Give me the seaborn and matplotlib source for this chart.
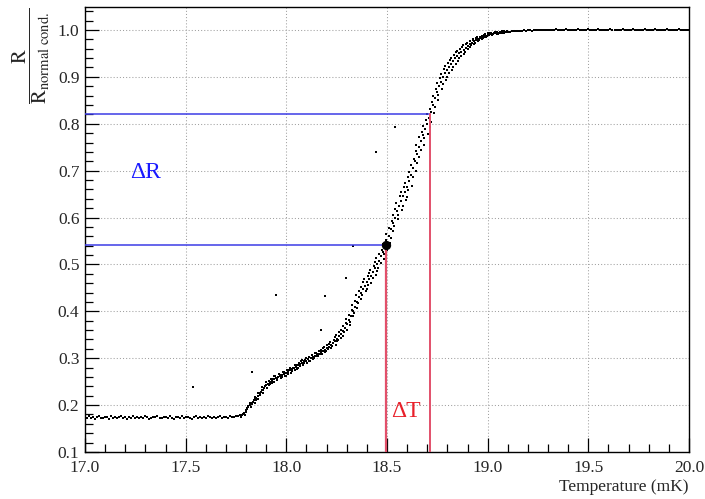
import numpy as np
import pandas as pd
import matplotlib
matplotlib.use("Agg")
import matplotlib.pyplot as plt
from matplotlib.ticker import MultipleLocator
import seaborn as sns

# ---------------- data ----------------
t_low = [17.00, 17.01, 17.02, 17.03, 17.04, 17.05, 17.06, 17.07, 17.08, 17.09,
         17.10, 17.11, 17.12, 17.13, 17.14, 17.15, 17.16, 17.17, 17.18, 17.19,
         17.20, 17.21, 17.22, 17.23, 17.24, 17.25, 17.26, 17.27, 17.28, 17.29,
         17.30, 17.31, 17.32, 17.33, 17.34, 17.35, 17.36, 17.37, 17.38, 17.39,
         17.40, 17.41, 17.42, 17.43, 17.44, 17.45, 17.46, 17.47, 17.48, 17.49,
         17.50, 17.51, 17.52, 17.53, 17.54, 17.55, 17.56, 17.57, 17.58, 17.59,
         17.60, 17.61, 17.62, 17.63, 17.64, 17.65, 17.66, 17.67, 17.68, 17.69,
         17.70, 17.71, 17.72, 17.73, 17.74, 17.75, 17.76, 17.77]
r_low = [0.174, 0.172, 0.176, 0.173, 0.175, 0.171, 0.174, 0.177, 0.173, 0.172,
         0.175, 0.174, 0.171, 0.176, 0.173, 0.174, 0.172, 0.175, 0.177, 0.173,
         0.174, 0.171, 0.175, 0.173, 0.176, 0.172, 0.174, 0.173, 0.175, 0.172,
         0.176, 0.174, 0.171, 0.173, 0.175, 0.174, 0.177, 0.172, 0.173, 0.175,
         0.174, 0.172, 0.176, 0.173, 0.171, 0.175, 0.174, 0.173, 0.176, 0.172,
         0.174, 0.175, 0.173, 0.171, 0.174, 0.176, 0.173, 0.175, 0.172, 0.174,
         0.173, 0.176, 0.174, 0.172, 0.175, 0.173, 0.174, 0.177, 0.172, 0.175,
         0.174, 0.173, 0.176, 0.174, 0.175, 0.177, 0.176, 0.178]

t_trans_c = [17.78, 17.79,
             17.80, 17.81, 17.82, 17.83, 17.84, 17.85, 17.86, 17.87, 17.88, 17.89,
             17.90, 17.91, 17.92, 17.93, 17.94, 17.95, 17.96, 17.97, 17.98, 17.99,
             18.00, 18.01, 18.02, 18.03, 18.04, 18.05, 18.06, 18.07, 18.08, 18.09,
             18.10, 18.11, 18.12, 18.13, 18.14, 18.15, 18.16, 18.17, 18.18, 18.19,
             18.20, 18.21, 18.22, 18.23, 18.24, 18.25, 18.26, 18.27, 18.28, 18.29,
             18.30, 18.31, 18.32, 18.33, 18.34, 18.35, 18.36, 18.37, 18.38, 18.39,
             18.40, 18.41, 18.42, 18.43, 18.44, 18.45, 18.46, 18.47, 18.48, 18.49,
             18.50, 18.51, 18.52, 18.53, 18.54, 18.55, 18.56, 18.57, 18.58, 18.59,
             18.60, 18.61, 18.62, 18.63, 18.64, 18.65, 18.66, 18.67, 18.68, 18.69,
             18.70, 18.71, 18.72, 18.73, 18.74, 18.75, 18.76, 18.77, 18.78, 18.79,
             18.80, 18.81, 18.82, 18.83, 18.84, 18.85, 18.86, 18.87, 18.88, 18.89,
             18.90, 18.91, 18.92, 18.93, 18.94, 18.95, 18.96, 18.97, 18.98, 18.99,
             19.00, 19.01, 19.02, 19.03, 19.04, 19.05, 19.06, 19.07, 19.08, 19.09,
             19.10]
r_trans_c = [0.178, 0.182,
             0.190, 0.195, 0.200, 0.205, 0.210, 0.215, 0.220, 0.226, 0.232, 0.237,
             0.242, 0.246, 0.249, 0.252, 0.255, 0.258, 0.260, 0.262, 0.264, 0.266,
             0.268, 0.271, 0.274, 0.276, 0.279, 0.282, 0.285, 0.288, 0.290, 0.293,
             0.295, 0.298, 0.300, 0.303, 0.305, 0.308, 0.310, 0.313, 0.315, 0.318,
             0.321, 0.324, 0.328, 0.332, 0.337, 0.342, 0.347, 0.352, 0.358, 0.365,
             0.372, 0.381, 0.390, 0.400, 0.410, 0.420, 0.430, 0.439, 0.448, 0.455,
             0.462, 0.468, 0.475, 0.483, 0.492, 0.500, 0.508, 0.517, 0.527, 0.537,
             0.548, 0.561, 0.575, 0.588, 0.600, 0.613, 0.625, 0.635, 0.645, 0.655,
             0.665, 0.677, 0.690, 0.705, 0.720, 0.735, 0.750, 0.763, 0.775, 0.788,
             0.800, 0.812, 0.825, 0.840, 0.855, 0.868, 0.880, 0.890, 0.900, 0.908,
             0.915, 0.922, 0.928, 0.934, 0.940, 0.945, 0.950, 0.954, 0.958, 0.962,
             0.966, 0.970, 0.973, 0.976, 0.978, 0.980, 0.982, 0.984, 0.986, 0.988,
             0.990, 0.991, 0.992, 0.993, 0.993, 0.994, 0.994, 0.995, 0.995, 0.996,
             0.996]

t_trans_a = [17.783, 17.788, 17.804, 17.811, 17.817, 17.835, 17.842, 17.846, 17.861, 17.873,
             17.879, 17.894, 17.897, 17.912, 17.925, 17.928, 17.941, 17.946, 17.963, 17.970,
             17.983, 17.988, 18.004, 18.011, 18.017, 18.035, 18.042, 18.046, 18.061, 18.073,
             18.079, 18.094, 18.097, 18.112, 18.125, 18.128, 18.141, 18.146, 18.163, 18.170,
             18.183, 18.188, 18.204, 18.211, 18.217, 18.235, 18.242, 18.246, 18.261, 18.273,
             18.279, 18.294, 18.297, 18.312, 18.325, 18.328, 18.341, 18.346, 18.363, 18.370,
             18.383, 18.388, 18.404, 18.411, 18.417, 18.435, 18.442, 18.446, 18.461, 18.473,
             18.479, 18.494, 18.497, 18.512, 18.525, 18.528, 18.541, 18.546, 18.563, 18.570,
             18.583, 18.588, 18.604, 18.611, 18.617, 18.635, 18.642, 18.646, 18.661, 18.673,
             18.679, 18.694, 18.697, 18.712, 18.725, 18.728, 18.741, 18.746, 18.763, 18.770,
             18.783, 18.788, 18.804, 18.811, 18.817, 18.835, 18.842, 18.846, 18.861, 18.873,
             18.879, 18.894, 18.897, 18.912, 18.925, 18.928, 18.941, 18.946, 18.963, 18.970,
             18.983, 18.988, 19.004, 19.011, 19.017, 19.035, 19.042, 19.046, 19.061, 19.073,
             19.079, 19.094, 19.097]
r_trans_a = [0.181, 0.184,
             0.193, 0.199, 0.204, 0.207, 0.215, 0.218, 0.226, 0.229, 0.238, 0.240,
             0.249, 0.251, 0.255, 0.256, 0.261, 0.262, 0.266, 0.265, 0.270, 0.270,
             0.274, 0.275, 0.280, 0.280, 0.285, 0.286, 0.290, 0.293, 0.296, 0.297,
             0.301, 0.302, 0.306, 0.307, 0.311, 0.312, 0.316, 0.318, 0.321, 0.323,
             0.328, 0.330, 0.335, 0.339, 0.345, 0.349, 0.356, 0.361, 0.368, 0.375,
             0.383, 0.392, 0.402, 0.413, 0.423, 0.434, 0.443, 0.452, 0.462, 0.468,
             0.476, 0.481, 0.489, 0.497, 0.506, 0.514, 0.523, 0.531, 0.543, 0.552,
             0.565, 0.577, 0.593, 0.605, 0.619, 0.632, 0.645, 0.654, 0.666, 0.674,
             0.686, 0.697, 0.712, 0.724, 0.741, 0.754, 0.771, 0.782, 0.796, 0.807,
             0.821, 0.831, 0.846, 0.859, 0.874, 0.886, 0.898, 0.907, 0.916, 0.923,
             0.930, 0.936, 0.941, 0.947, 0.952, 0.956, 0.960, 0.963, 0.967, 0.970,
             0.973, 0.976, 0.979, 0.981, 0.983, 0.984, 0.986, 0.988, 0.989, 0.991,
             0.993, 0.993, 0.994, 0.995, 0.995, 0.996, 0.996, 0.997, 0.997, 0.997,
             0.998]

t_trans_b = [17.777, 17.794, 17.799, 17.806, 17.822, 17.828, 17.845, 17.851, 17.857, 17.869,
             17.883, 17.886, 17.902, 17.914, 17.918, 17.931, 17.937, 17.953, 17.955, 17.972,
             17.977, 17.994, 17.999, 18.006, 18.022, 18.028, 18.045, 18.051, 18.057, 18.069,
             18.083, 18.086, 18.102, 18.114, 18.118, 18.131, 18.137, 18.153, 18.155, 18.172,
             18.177, 18.194, 18.199, 18.206, 18.222, 18.228, 18.245, 18.251, 18.257, 18.269,
             18.283, 18.286, 18.302, 18.314, 18.318, 18.331, 18.337, 18.353, 18.355, 18.372,
             18.377, 18.394, 18.399, 18.406, 18.422, 18.428, 18.445, 18.451, 18.457, 18.469,
             18.483, 18.486, 18.502, 18.514, 18.518, 18.531, 18.537, 18.553, 18.555, 18.572,
             18.577, 18.594, 18.599, 18.606, 18.622, 18.628, 18.645, 18.651, 18.657, 18.669,
             18.683, 18.686, 18.702, 18.714, 18.718, 18.731, 18.737, 18.753, 18.755, 18.772,
             18.777, 18.794, 18.799, 18.806, 18.822, 18.828, 18.845, 18.851, 18.857, 18.869,
             18.883, 18.886, 18.902, 18.914, 18.918, 18.931, 18.937, 18.953, 18.955, 18.972,
             18.977, 18.994, 18.999, 19.006, 19.022, 19.028, 19.045, 19.051, 19.057, 19.069,
             19.083, 19.086, 19.102]
r_trans_b = [0.175, 0.178,
             0.186, 0.191, 0.196, 0.202, 0.205, 0.211, 0.214, 0.222, 0.226, 0.233,
             0.236, 0.242, 0.244, 0.248, 0.250, 0.254, 0.255, 0.258, 0.259, 0.262,
             0.263, 0.267, 0.269, 0.272, 0.274, 0.278, 0.280, 0.283, 0.285, 0.289,
             0.290, 0.294, 0.295, 0.299, 0.300, 0.304, 0.305, 0.309, 0.310, 0.313,
             0.315, 0.319, 0.321, 0.326, 0.329, 0.336, 0.338, 0.344, 0.348, 0.356,
             0.361, 0.371, 0.378, 0.389, 0.397, 0.408, 0.417, 0.427, 0.434, 0.443,
             0.448, 0.456, 0.461, 0.470, 0.478, 0.487, 0.493, 0.504, 0.511, 0.523,
             0.531, 0.546, 0.557, 0.572, 0.581, 0.596, 0.605, 0.617, 0.624, 0.637,
             0.644, 0.658, 0.668, 0.687, 0.699, 0.717, 0.729, 0.745, 0.754, 0.770,
             0.779, 0.794, 0.804, 0.822, 0.836, 0.851, 0.862, 0.874, 0.884, 0.894,
             0.900, 0.909, 0.915, 0.922, 0.928, 0.934, 0.940, 0.945, 0.949, 0.954,
             0.959, 0.964, 0.967, 0.971, 0.973, 0.976, 0.978, 0.980, 0.983, 0.985,
             0.987, 0.989, 0.990, 0.991, 0.991, 0.992, 0.993, 0.993, 0.994, 0.995,
             0.995]

t_high = [19.11, 19.12, 19.13, 19.14, 19.15, 19.16, 19.17, 19.18, 19.19,
          19.20, 19.21, 19.22, 19.23, 19.24, 19.25, 19.26, 19.27, 19.28, 19.29,
          19.30, 19.31, 19.32, 19.33, 19.34, 19.35, 19.36, 19.37, 19.38, 19.39,
          19.40, 19.41, 19.42, 19.43, 19.44, 19.45, 19.46, 19.47, 19.48, 19.49,
          19.50, 19.51, 19.52, 19.53, 19.54, 19.55, 19.56, 19.57, 19.58, 19.59,
          19.60, 19.61, 19.62, 19.63, 19.64, 19.65, 19.66, 19.67, 19.68, 19.69,
          19.70, 19.71, 19.72, 19.73, 19.74, 19.75, 19.76, 19.77, 19.78, 19.79,
          19.80, 19.81, 19.82, 19.83, 19.84, 19.85, 19.86, 19.87, 19.88, 19.89,
          19.90, 19.91, 19.92, 19.93, 19.94, 19.95, 19.96, 19.97, 19.98, 19.99,
          20.00]
r_high = [0.996, 0.997, 0.997, 0.998, 0.997, 0.998, 0.998, 0.999, 0.998,
          0.999, 0.999, 0.998, 0.999, 1.000, 0.999, 0.999, 1.000, 0.999, 1.000,
          1.000, 1.000, 0.999, 1.000, 1.001, 1.000, 0.999, 1.000, 1.000, 1.001,
          1.000, 0.999, 1.000, 1.000, 1.000, 1.001, 1.000, 0.999, 1.000, 1.000,
          1.001, 1.000, 1.000, 0.999, 1.000, 1.001, 1.000, 1.000, 0.999, 1.000,
          1.000, 1.001, 1.000, 1.000, 0.999, 1.000, 1.000, 1.001, 1.000, 0.999,
          1.000, 1.000, 1.001, 1.000, 1.000, 0.999, 1.000, 1.000, 1.001, 1.000,
          1.000, 0.999, 1.000, 1.001, 1.000, 1.000, 0.999, 1.000, 1.000, 1.001,
          1.000, 1.000, 0.999, 1.000, 1.000, 1.001, 1.000, 1.000, 0.999, 1.000,
          1.000]

t_outlier = [17.536, 17.83, 17.95, 18.17, 18.19, 18.295, 18.33, 18.444, 18.54]
r_outlier = [0.239, 0.270, 0.435, 0.360, 0.433, 0.471, 0.540, 0.740, 0.793]

# marked working points
t_mark = [18.494, 18.712]
r_mark = [0.541, 0.820]

x_ticks = [17.0, 17.5, 18.0, 18.5, 19.0, 19.5, 20.0]
y_ticks = [0.1, 0.2, 0.3, 0.4, 0.5, 0.6, 0.7, 0.8, 0.9, 1.0]

# ---------------- build table ----------------
df = pd.DataFrame({
    "T": t_low + t_trans_c + t_trans_a + t_trans_b + t_high + t_outlier,
    "R": r_low + r_trans_c + r_trans_a + r_trans_b + r_high + r_outlier,
})

# ---------------- style ----------------
sns.set_style("white")
plt.rcParams["font.family"] = ["Liberation Serif", "DejaVu Serif"]
plt.rcParams["mathtext.fontset"] = "stix"

fig = plt.figure(figsize=(7.05, 4.99), dpi=100)
ax = fig.add_axes([0.1206, 0.0942, 0.8567, 0.8918])

sns.scatterplot(data=df, x="T", y="R", ax=ax, color="black", s=3,
                marker="s", linewidth=0, zorder=3)

# highlighted point
sns.scatterplot(x=[t_mark[0]], y=[r_mark[0]], ax=ax, color="black", s=45,
                linewidth=0, zorder=5)

# guide lines
blue = "#3c3ce6"
red = "#e2506a"
ax.plot([17.0, t_mark[0]], [r_mark[0], r_mark[0]], color=blue, lw=1.1, zorder=4)
ax.plot([17.0, t_mark[1]], [r_mark[1], r_mark[1]], color=blue, lw=1.1, zorder=4)
ax.plot([t_mark[0], t_mark[0]], [0.1, r_mark[0]], color=red, lw=1.6, zorder=4)
ax.plot([t_mark[1], t_mark[1]], [0.1, r_mark[1]], color=red, lw=1.4, zorder=4)

ax.text(17.30, 0.697, "ΔR", color="#1a1aff", fontsize=17,
        ha="center", va="center")
ax.text(18.593, 0.186, "ΔT", color="#e8202a", fontsize=17,
        ha="center", va="center")

ax.set_xlim(17.0, 20.0)
ax.set_ylim(0.1, 1.049)
ax.set_xticks(x_ticks)
ax.set_xticklabels([f"{v:.1f}" for v in x_ticks])
ax.set_yticks(y_ticks)
ax.set_yticklabels([f"{v:.1f}" for v in y_ticks])
ax.xaxis.set_minor_locator(MultipleLocator(0.1))
ax.yaxis.set_minor_locator(MultipleLocator(0.02))

ax.tick_params(axis="both", which="both", bottom=True, left=True,
               top=False, right=False)
ax.tick_params(axis="both", which="major", direction="in", length=10,
               width=0.9, labelsize=12.5, color="black")
ax.tick_params(axis="both", which="minor", direction="in", length=5.5,
               width=0.9, color="black")
ax.tick_params(axis="x", which="major", pad=6)
ax.tick_params(axis="y", which="major", pad=4)

ax.grid(True, which="major", color="#a0a0a0", linestyle=(0, (1, 2)), lw=0.75)
ax.set_axisbelow(True)
for sp in ax.spines.values():
    sp.set_color("black")
    sp.set_linewidth(1.0)

ax.set_xlabel("")
ax.set_ylabel("")
fig.text(0.976, 0.008, "Temperature (mK)", fontsize=12.5,
         ha="right", va="bottom")

fig.text(0.044, 0.888, r"$\dfrac{\mathrm{R}}{\mathrm{R}_{\mathrm{normal\ cond.}}}$",
         rotation=90, fontsize=15, ha="center", va="center")

fig.savefig("out.png", dpi=100)
